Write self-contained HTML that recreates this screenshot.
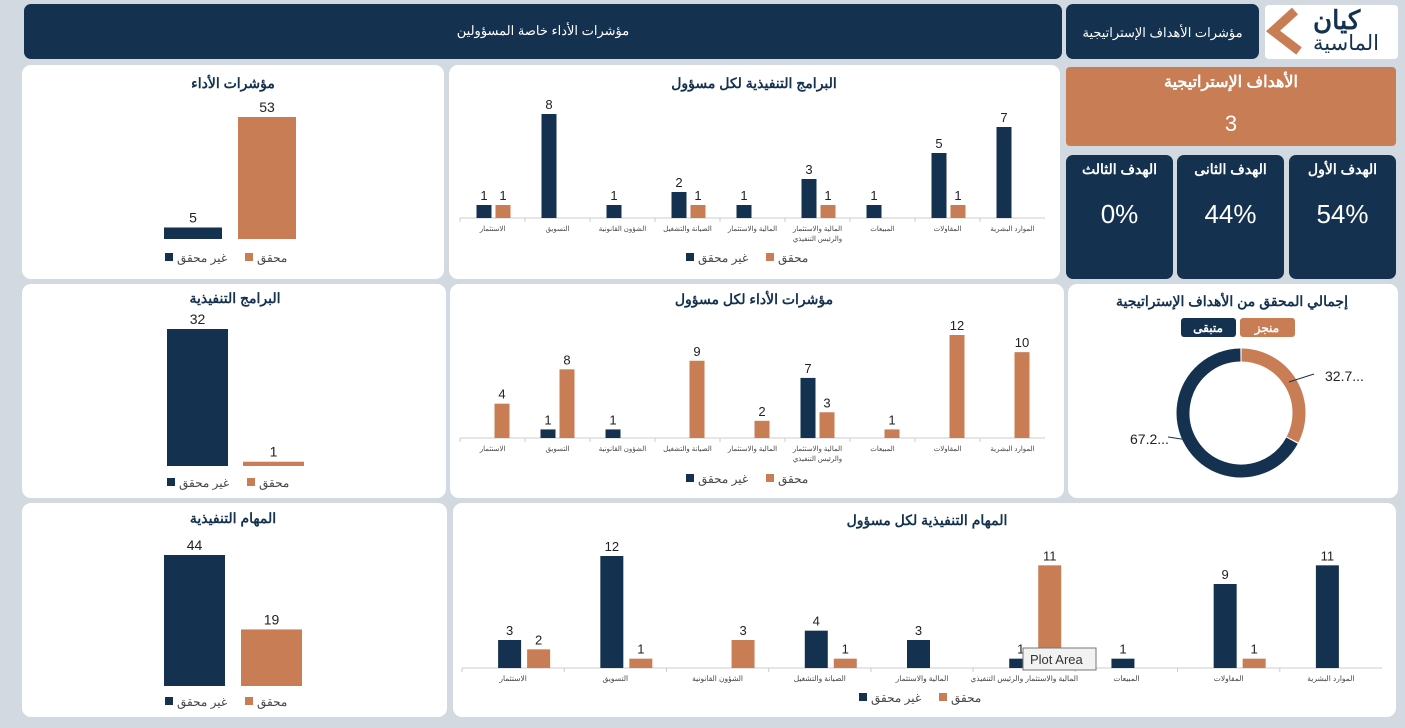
<!DOCTYPE html>
<html lang="ar"><head><meta charset="utf-8">
<style>
*{box-sizing:border-box;margin:0;padding:0}
body{width:1405px;height:728px;background:#d3d9e0;font-family:"Liberation Sans","Noto Sans CJK SC",sans-serif;position:relative;overflow:hidden}
.abs{position:absolute}
.card{position:absolute;background:#fff;border-radius:9px}
.navy{background:#14324f;color:#fff;border-radius:7px}
.t{position:absolute;width:100%;text-align:center}
svg{position:absolute;left:0;top:0}
</style></head><body>
<div class="abs navy" style="left:24px;top:4px;width:1038px;height:55px"><div class="t" style="top:19px;font-size:13px">مؤشرات الأداء خاصة المسؤولين</div></div>
<div class="abs navy" style="left:1066px;top:4px;width:193px;height:55px"><div class="t" style="top:21px;font-size:13px">مؤشرات الأهداف الإستراتيجية</div></div>
<div class="card" style="left:1265px;top:5px;width:133px;height:54px;border-radius:4px">
 <svg width="40" height="50" style="left:0;top:2px"><polyline points="30,4 8,24 34,44" fill="none" stroke="#c97d55" stroke-width="9"/></svg>
 <div class="abs" style="left:48px;top:0px;font-size:26px;color:#14324f;font-weight:bold">كيان</div>
 <div class="abs" style="left:48px;top:26px;font-size:21px;color:#14324f">الماسية</div>
</div>

<div class="card" style="left:22px;top:65px;width:422px;height:214px"></div>
<div class="card" style="left:449px;top:65px;width:611px;height:214px"></div>
<div class="abs" style="left:1066px;top:67px;width:330px;height:79px;background:#c97d55;border-radius:4px;color:#fff">
 <div class="t" style="top:5px;font-size:16px;font-weight:bold">الأهداف الإستراتيجية</div>
 <div class="t" style="top:44px;font-size:22px">3</div></div>
<div class="abs navy" style="left:1066px;top:155px;width:107px;height:124px"><div class="t" style="top:6px;font-size:14px;font-weight:bold">الهدف الثالث</div><div class="t" style="top:44px;font-size:26px">0%</div></div>
<div class="abs navy" style="left:1177px;top:155px;width:107px;height:124px"><div class="t" style="top:6px;font-size:14px;font-weight:bold">الهدف الثانى</div><div class="t" style="top:44px;font-size:26px">44%</div></div>
<div class="abs navy" style="left:1289px;top:155px;width:107px;height:124px"><div class="t" style="top:6px;font-size:14px;font-weight:bold">الهدف الأول</div><div class="t" style="top:44px;font-size:26px">54%</div></div>

<div class="card" style="left:22px;top:284px;width:424px;height:214px"></div>
<div class="card" style="left:450px;top:284px;width:614px;height:214px"></div>
<div class="card" style="left:1068px;top:284px;width:330px;height:214px"></div>
<div class="card" style="left:22px;top:503px;width:425px;height:214px"></div>
<div class="card" style="left:453px;top:503px;width:943px;height:214px"></div>

<svg id="s" width="1405" height="728" font-family="Liberation Sans, Noto Sans CJK SC, sans-serif"></svg>
<script>
const NAVY='#14324f',ORANGE='#c97d55';
const cats=['الاستثمار','التسويق','الشؤون القانونية','الصيانة والتشغيل','المالية والاستثمار','المالية والاستثمار|والرئيس التنفيذي','المبيعات','المقاولات','الموارد البشرية'];
const progNot=[1,8,1,2,1,3,1,5,7], progDone=[1,0,0,1,0,1,0,1,0];
const kpiNot=[0,1,1,0,0,7,0,0,0], kpiDone=[4,8,0,9,2,3,1,12,10];
const taskNot=[3,12,0,4,3,1,1,9,11], taskDone=[2,1,3,1,0,11,0,1,0];
const totKpi=[5,53], totProg=[32,1], totTask=[44,19];
const donutVals=[32.7,67.2];
const S=document.getElementById('s');
function el(tag,a,txt){const e=document.createElementNS('http://www.w3.org/2000/svg',tag);for(const k in a)e.setAttribute(k,a[k]);if(txt!=null)e.textContent=txt;S.appendChild(e);return e;}
function title(x,y,t,n){const e=el('text',{x,y,'text-anchor':'middle','font-size':14,'font-weight':'bold',fill:'#14324f'},t);}
function legend(cx,y,n){
 let r=el('rect',{x:cx+12,y:y-9,width:8,height:8,fill:ORANGE});
 let t=el('text',{x:cx+24,y:y,'font-size':12,fill:'#444'},'محقق');
 let r2=el('rect',{x:cx-68,y:y-9,width:8,height:8,fill:NAVY});
 let t2=el('text',{x:cx-56,y:y,'font-size':12,fill:'#444'},'غير محقق');
}
function totals(vals,x0,w,gap,base,scale,n){
 vals.forEach((v,i)=>{const x=x0+i*(w+gap),h=v*scale;
  const r=el('rect',{x,y:base-h,width:w,height:h,fill:i?ORANGE:NAVY});
  
  
  const t=el('text',{x:x+w/2,y:base-h-5,'text-anchor':'middle','font-size':14,fill:'#222'},v);
  
  });
}
function grouped(notA,doneA,x0,x1,base,scale,bw,off1,off2,n,fs,oneLine){
 const cw=(x1-x0)/cats.length;
 el('line',{x1:x0,x2:x1,y1:base,y2:base,stroke:'#ccc'});
 cats.forEach((c,i)=>{const cx=x0+cw*(i+0.5);
  el('line',{x1:x0+cw*i,x2:x0+cw*i,y1:base,y2:base+4,stroke:'#ccc'});
  [[notA[i],NAVY,off1,'not'],[doneA[i],ORANGE,off2,'done']].forEach(([v,col,off,k])=>{
   if(!v)return;const h=v*scale;
   const r=el('rect',{x:cx+off,y:base-h,width:bw,height:h,fill:col});
   
   
   const t=el('text',{x:cx+off+bw/2,y:base-h-5,'text-anchor':'middle','font-size':13,fill:'#222'},v);
   
   });
  const lines=oneLine?[c.replace('|',' ')]:c.split('|');
  lines.forEach((ln,j)=>{const t=el('text',{x:cx,y:base+13+j*10,'text-anchor':'middle','font-size':fs,fill:'#444'},ln);
   
   });
 });
}
title(233,88,'مؤشرات الأداء','kpi-title');totals(totKpi,164,58,16,239,122/53,'kpi');legend(233,262,'kpi');
title(754,88,'البرامج التنفيذية لكل مسؤول','programs-owner-title');grouped(progNot,progDone,460,1045,218,13,15,-16,3,'programs-owner',7,false);legend(754,262,'programs-owner');
title(235,303,'البرامج التنفيذية','programs-title');totals(totProg,167,61,15,466,137/32,'programs');legend(235,487,'programs');
title(754,304,'مؤشرات الأداء لكل مسؤول','kpi-owner-title');grouped(kpiNot,kpiDone,460,1045,438,103/12,15,-17,2,'kpi-owner',7,false);legend(754,483,'kpi-owner');
title(233,523,'المهام التنفيذية','tasks-title');totals(totTask,164,61,16,686,131/44,'tasks');legend(233,706,'tasks');
title(927,525,'المهام التنفيذية لكل مسؤول','tasks-owner-title');grouped(taskNot,taskDone,462,1382,668,112/12,23,-15,14,'tasks-owner',7.5,true);legend(927,702,'tasks-owner');
title(1232,306,'إجمالي المحقق من الأهداف الإستراتيجية','donut-title');
let lb=el('rect',{x:1240,y:318,width:55,height:19,rx:3,fill:ORANGE});
el('text',{x:1267,y:332,'text-anchor':'middle','font-size':12,'font-weight':'bold',fill:'#fff'},'منجز');
let lb2=el('rect',{x:1181,y:318,width:55,height:19,rx:3,fill:NAVY});
el('text',{x:1208,y:332,'text-anchor':'middle','font-size':12,'font-weight':'bold',fill:'#fff'},'متبقى');
const cx=1241,cy=413,R=58;const tot=donutVals[0]+donutVals[1];let a0=0;
donutVals.forEach((v,i)=>{const a1=a0+v/tot*2*Math.PI;
 const p=(a)=>[cx+R*Math.sin(a),cy-R*Math.cos(a)];const [x0,y0]=p(a0+0.01),[x1,y1]=p(a1-0.01);
 const d=el('path',{d:`M${x0},${y0} A${R},${R} 0 ${a1-a0>Math.PI?1:0} 1 ${x1},${y1}`,fill:'none',stroke:i?NAVY:ORANGE,'stroke-width':13});
 
 
 a0=a1;});
el('line',{x1:1289,y1:382,x2:1314,y2:374,stroke:'#14324f'});
el('line',{x1:1168,y1:437,x2:1188,y2:440,stroke:'#14324f'});
let dl=el('text',{x:1325,y:381,'font-size':14,fill:'#222'},donutVals[0].toFixed(1)+'...');
let dl2=el('text',{x:1130,y:444,'font-size':14,fill:'#222'},donutVals[1].toFixed(1)+'...');
let tt=el('rect',{x:1023,y:648,width:73,height:22,fill:'#f2f2f2',stroke:'#777'});
el('text',{x:1030,y:664,'font-size':13,fill:'#333'},'Plot Area');
</script>
</body></html>
